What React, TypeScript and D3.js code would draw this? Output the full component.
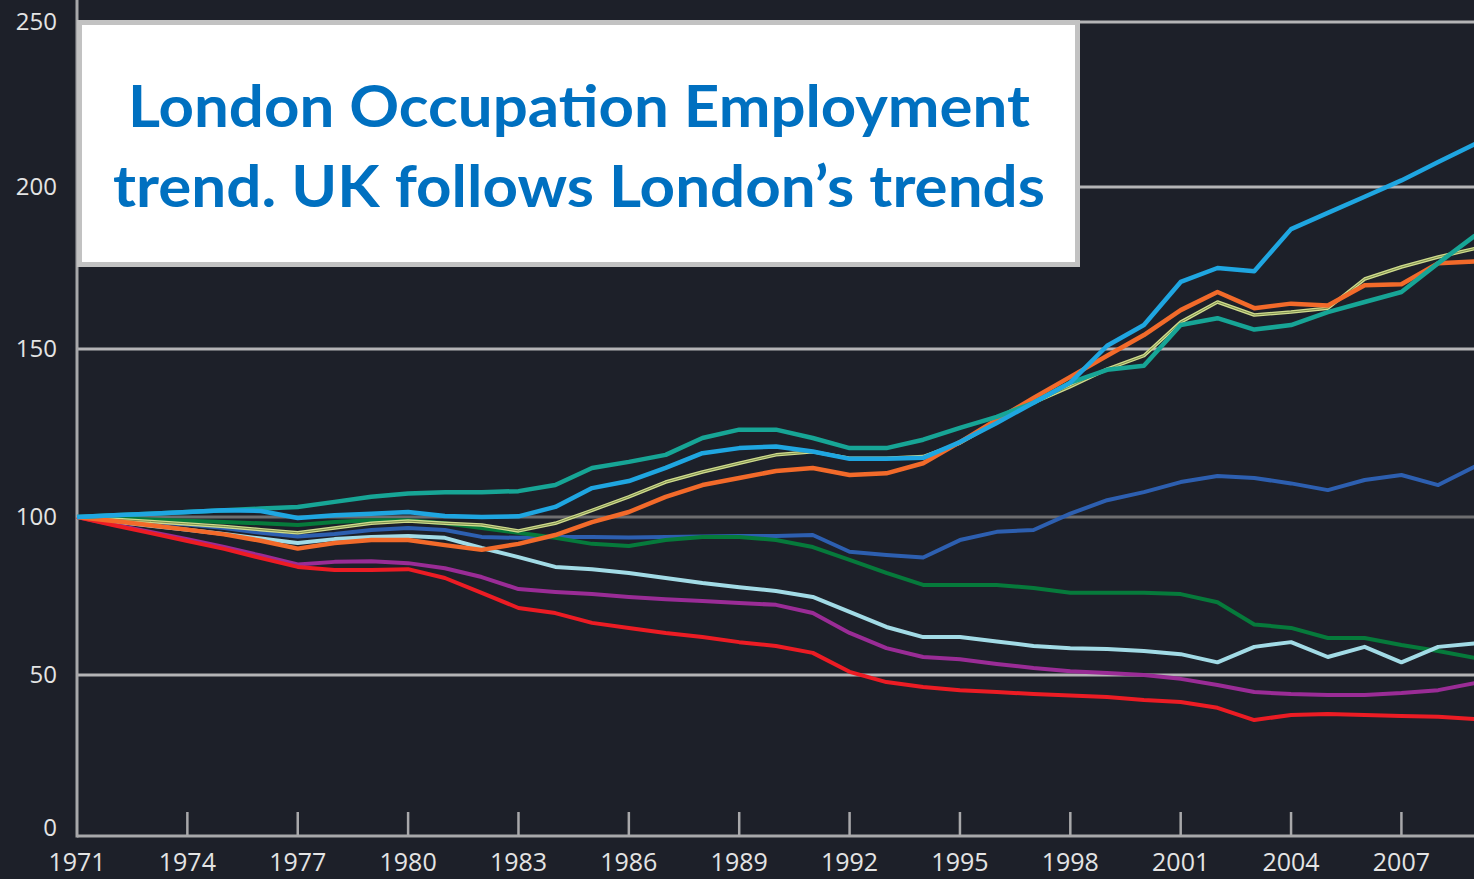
import { useEffect, useRef } from 'react';
import * as d3 from 'd3';

const years = d3.range(1971, 2010);

// index 1971 = 100
const lightBlue = [100, 100.5, 101, 101.5, 102, 101.8, 99.7, 100.5, 101, 101.5, 100.3, 100, 100.2, 103, 108.6, 110.7, 114.6, 119, 120.5, 121, 119.5, 117.3, 117.3, 117.6, 122.3, 128, 134, 140, 151, 157.4, 170.7, 175, 174, 187, 192, 197, 202, 207.6, 213];
const teal = [100, 100.5, 101, 101.5, 102, 102.5, 103, 104.5, 106, 107, 107.4, 107.4, 107.7, 109.5, 114.6, 116.4, 118.5, 123.5, 126, 126, 123.5, 120.5, 120.5, 123, 126.5, 129.8, 134, 140, 143.8, 145, 157.4, 159.5, 156, 157.4, 161.4, 164.5, 167.6, 176.5, 185];
const orange = [100, 98.7, 97.4, 96, 94.5, 92.5, 90, 91.8, 92.7, 92.7, 91.1, 89.6, 91.5, 94.3, 98.4, 101.5, 106, 109.5, 111.6, 113.7, 114.6, 112.5, 113, 116, 122.3, 129, 135.4, 141.7, 148, 154.3, 162, 167.6, 162.6, 164, 163.4, 169.7, 170, 176.5, 177];
const paleGreen = [100, 99.3, 98.6, 97.8, 97, 96, 95, 96.5, 98, 98.7, 98, 97.5, 95.6, 98, 102, 106, 110.4, 113.4, 116, 118.5, 119.4, 117.5, 117.5, 118, 122, 128.3, 134, 138.8, 144, 148, 158.3, 164.5, 160.5, 161.4, 162.6, 171.6, 175.3, 178.4, 181];
const darkBlue = [100, 99.2, 98.4, 97.6, 96.5, 95, 93.8, 94.6, 95.9, 96.5, 95.9, 93.7, 93.4, 93.7, 93.7, 93.5, 93.7, 93.8, 94, 94, 94.3, 89, 88, 87.2, 92.7, 95.3, 95.9, 101, 105, 107.4, 110.4, 112.2, 111.6, 110, 108, 111, 112.5, 109.5, 115];
const green = [100, 99.6, 99.2, 98.8, 98.4, 98, 97.5, 98.4, 99, 99, 98, 96.5, 95, 93.4, 91.5, 90.8, 92.7, 93.7, 93.7, 92.7, 90.5, 86.4, 82.3, 78.5, 78.5, 78.5, 77.5, 76, 76, 76, 75.6, 73, 66, 64.9, 61.7, 61.7, 59.5, 57.6, 55.4];
const lightCyan = [100, 98.6, 97.2, 96, 94.6, 93.2, 91.8, 93, 93.7, 94, 93.4, 90.2, 87.3, 84.2, 83.5, 82.3, 80.7, 79.1, 77.8, 76.6, 74.7, 70, 65.2, 62, 62, 60.6, 59.2, 58.5, 58.2, 57.6, 56.6, 54, 58.9, 60.4, 55.7, 58.9, 54, 58.9, 60];
const purple = [100, 97.6, 95.3, 93, 90.5, 87.8, 85, 85.8, 86, 85.4, 83.8, 81, 77.2, 76.3, 75.6, 74.7, 74, 73.4, 72.8, 72.2, 69.6, 63.3, 58.5, 55.7, 55, 53.5, 52.2, 51.2, 50.6, 50, 48.8, 46.9, 44.7, 44.1, 43.8, 43.8, 44.4, 45.3, 47.5];
const red = [100, 97.4, 94.9, 92.4, 89.9, 87, 84.2, 83.2, 83.2, 83.5, 80.7, 76, 71.2, 69.6, 66.5, 64.9, 63.3, 62, 60.4, 59.2, 57, 51, 47.8, 46.3, 45.3, 44.7, 44.1, 43.6, 43.2, 42.2, 41.6, 39.8, 36, 37.6, 37.9, 37.6, 37.3, 37, 36.3];

const yTicks = [0, 50, 100, 150, 200, 250];
const xTicks = d3.range(1971, 2008, 3);
const titleLines = ['London Occupation Employment', 'trend. UK follows London\u2019s trends'];

// drawn bottom to top
const series = [
  { values: darkBlue, color: '#2d5fb0', width: 4 },
  { values: green, color: '#067a3b', width: 4 },
  { values: lightCyan, color: '#a2dbe6', width: 4 },
  { values: purple, color: '#9a2c96', width: 4 },
  { values: red, color: '#ec1c24', width: 4 },
  { values: paleGreen, color: '#cfdb8c', width: 3.5, inner: '#7f8f4e' },
  { values: orange, color: '#f26a2a', width: 4.5 },
  { values: teal, color: '#17a596', width: 4.5 },
  { values: lightBlue, color: '#1fa6e1', width: 4.5 },
];

const W = 1474;
const H = 879;

export default function App() {
  const svgRef = useRef<SVGSVGElement>(null);

  useEffect(() => {
    if (!svgRef.current) return;
    const svg = d3.select(svgRef.current);
    svg.selectAll('*').remove();

    const x = d3.scaleLinear().domain([1971, 2009]).range([77, 1475]);
    // gridlines in the source image are not evenly spaced
    const y = d3.scaleLinear().domain(yTicks).range([836, 675, 517, 349, 187, 22]);

    svg.append('rect').attr('width', W).attr('height', H).attr('fill', '#1d2029');

    // gridlines
    svg.append('g')
      .selectAll('line')
      .data(yTicks.filter(d => d > 0))
      .enter()
      .append('line')
      .attr('x1', x(1971))
      .attr('x2', W)
      .attr('y1', d => y(d))
      .attr('y2', d => y(d))
      .attr('stroke', d => (d === 100 ? '#6e6e70' : '#b4b4b6'))
      .attr('stroke-width', 3);

    // axes
    const axisColor = '#a8a8aa';
    svg.append('line')
      .attr('x1', x(1971)).attr('x2', x(1971))
      .attr('y1', 0).attr('y2', y(0) + 1.5)
      .attr('stroke', axisColor).attr('stroke-width', 3);
    svg.append('line')
      .attr('x1', x(1971)).attr('x2', W)
      .attr('y1', y(0)).attr('y2', y(0))
      .attr('stroke', axisColor).attr('stroke-width', 3);
    svg.append('g')
      .selectAll('line')
      .data(xTicks.slice(1))
      .enter()
      .append('line')
      .attr('x1', d => x(d)).attr('x2', d => x(d))
      .attr('y1', y(0)).attr('y2', y(0) - 24)
      .attr('stroke', axisColor).attr('stroke-width', 2.5);

    const font = '"Open Sans", "Noto Sans", sans-serif';
    svg.append('g')
      .selectAll('text')
      .data(xTicks)
      .enter()
      .append('text')
      .attr('x', d => x(d))
      .attr('y', 871)
      .attr('text-anchor', 'middle')
      .attr('font-family', font)
      .attr('font-size', 25)
      .attr('fill', '#e4e4e4')
      .text(d => String(d));

    svg.append('g')
      .selectAll('text')
      .data(yTicks)
      .enter()
      .append('text')
      .attr('x', 57)
      .attr('y', d => (d === 0 ? 828 : y(d)))
      .attr('dy', '0.35em')
      .attr('text-anchor', 'end')
      .attr('font-family', font)
      .attr('font-size', 24)
      .attr('fill', '#e4e4e4')
      .text(d => String(d));

    // lines
    const line = d3.line<number>()
      .x((_, i) => x(years[i]))
      .y(d => y(d));

    const lines = svg.append('g').attr('fill', 'none').attr('stroke-linejoin', 'round');
    series.forEach(s => {
      lines.append('path')
        .attr('d', line(s.values))
        .attr('stroke', s.color)
        .attr('stroke-width', s.width);
      if (s.inner) {
        lines.append('path')
          .attr('d', line(s.values))
          .attr('stroke', s.inner)
          .attr('stroke-width', 1);
      }
    });

    // title box
    svg.append('rect')
      .attr('x', 79.5).attr('y', 22.5)
      .attr('width', 998).attr('height', 242)
      .attr('fill', '#ffffff')
      .attr('stroke', '#c2c2c2')
      .attr('stroke-width', 5);

    const widths = [902, 932];
    svg.append('g')
      .selectAll('text')
      .data(titleLines)
      .enter()
      .append('text')
      .attr('x', 579)
      .attr('y', (_, i) => 127 + i * 80)
      .attr('text-anchor', 'middle')
      .attr('font-family', 'Lato, "Open Sans", sans-serif')
      .attr('font-weight', 700)
      .attr('font-size', 58)
      .attr('fill', '#0070c0')
      .attr('textLength', (_, i) => widths[i])
      .attr('lengthAdjust', 'spacingAndGlyphs')
      .text(d => d);
  }, []);

  return (
    <svg
      ref={svgRef}
      width={W}
      height={H}
      style={{ position: 'absolute', left: 0, top: 0, display: 'block' }}
    />
  );
}
